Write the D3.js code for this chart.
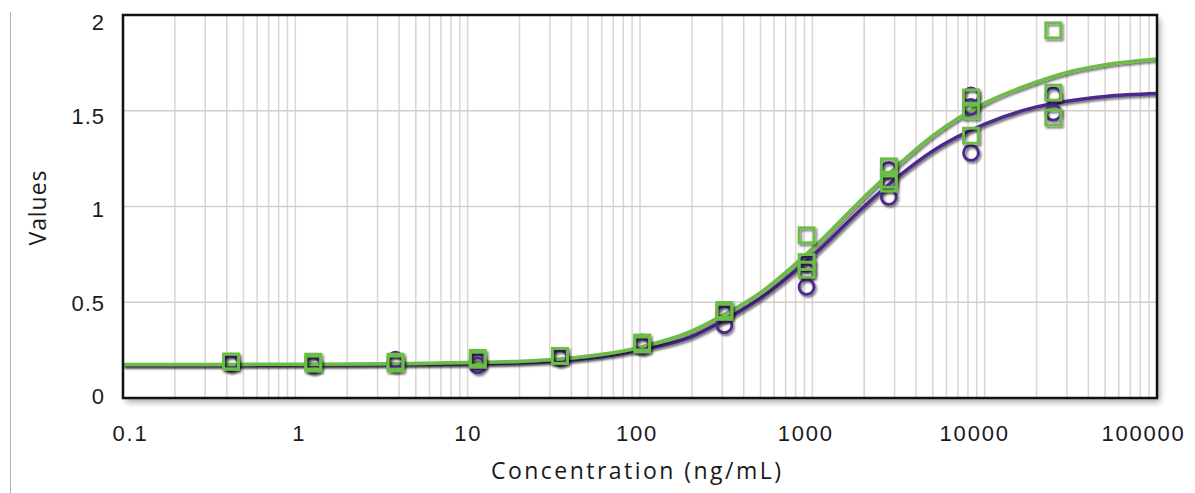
<!DOCTYPE html>
<html>
<head>
<meta charset="utf-8">
<script src="https://cdn.jsdelivr.net/npm/d3@7"></script>
<style>
  body { margin: 0; background: #fff; }
  svg { display: block; font-family: "Open Sans", Lato, sans-serif; }
</style>
</head>
<body>
<svg id="chart" width="1195" height="493"></svg>
<script>
// concentrations (3-fold dilution from 25000)
const conc = [0.4234, 1.27, 3.81, 11.43, 34.29, 102.9, 308.6, 925.9, 2778, 8333, 25000];

// purple circles, replicate readings per concentration
const purplePts = [
  [0.18, 0.19, 0.18], [0.17, 0.18, 0.18], [0.20, 0.18, 0.19], [0.17, 0.19, 0.20],
  [0.21, 0.22, 0.21], [0.27, 0.28, 0.29], [0.38, 0.44, 0.45], [0.58, 0.66, 0.70],
  [1.05, 1.13, 1.19], [1.28, 1.52, 1.58], [1.49, 1.58]
];
// green squares
const greenPts = [
  [0.19, 0.19], [0.18, 0.19], [0.18, 0.19], [0.20, 0.21],
  [0.22, 0.22], [0.29, 0.28], [0.46, 0.45], [0.85, 0.71, 0.67],
  [1.21, 1.14, 1.12], [1.57, 1.50, 1.37], [1.92, 1.595, 1.465]
];

// fitted curves
const curveX      = [0.1, 1, 10, 30, 100, 200, 300, 500, 1000, 2000, 3000, 5000, 10000, 20000, 30000, 50000, 100000];
const purpleCurve = [0.172, 0.173, 0.178, 0.19, 0.25, 0.32, 0.40, 0.52, 0.74, 1.0, 1.14, 1.29, 1.43, 1.52, 1.55, 1.575, 1.59];
const greenCurve  = [0.175, 0.176, 0.185, 0.20, 0.265, 0.35, 0.43, 0.55, 0.78, 1.05, 1.20, 1.37, 1.54, 1.65, 1.70, 1.74, 1.77];

const xTicks = [0.1, 1, 10, 100, 1000, 10000, 100000];
const xTickLabels = ["0.1", "1", "10", "100", "1000", "10000", "100000"];
const yTicks = [0, 0.5, 1, 1.5, 2];

const purple = "#4b2a8c", green = "#6cbd45";

const svg = d3.select("#chart");
const m = { left: 123, right: 1157, top: 15, bottom: 398 };

const x = d3.scaleLog().domain([0.1, 100000]).range([m.left, m.right]);
const y = d3.scaleLinear().domain([0, 2]).range([m.bottom, m.top]);
// tick labels in the original sit on a slightly tighter spread than the grid
const xLab = d3.scaleLog().domain([0.1, 100000]).range([129, 1142]);
const yLab = d3.scaleLinear().domain([0, 2]).range([396, 22]);

const defs = svg.append("defs");
defs.append("filter").attr("id", "boxShadow").attr("x", "-5%").attr("y", "-5%").attr("width", "115%").attr("height", "120%")
  .append("feDropShadow").attr("dx", 3).attr("dy", 4).attr("stdDeviation", 3)
  .attr("flood-color", "#000").attr("flood-opacity", 0.35);
defs.append("filter").attr("id", "markShadow").attr("x", "-20%").attr("y", "-20%").attr("width", "150%").attr("height", "150%")
  .append("feDropShadow").attr("dx", 1.5).attr("dy", 2).attr("stdDeviation", 1.2)
  .attr("flood-color", "#000").attr("flood-opacity", 0.55);
defs.append("clipPath").attr("id", "plotClip").append("rect")
  .attr("x", m.left).attr("y", m.top).attr("width", m.right - m.left).attr("height", m.bottom - m.top);

// thin grey rule at far left
svg.append("line").attr("x1", 10.5).attr("x2", 10.5).attr("y1", 12).attr("y2", 493)
  .attr("stroke", "#b0b0b0").attr("stroke-width", 1);

// plot background with shadow
svg.append("rect").attr("x", m.left).attr("y", m.top)
  .attr("width", m.right - m.left).attr("height", m.bottom - m.top)
  .attr("fill", "#fff").attr("filter", "url(#boxShadow)");

// grid
const minor = [];
for (let d = -1; d < 5; d++) for (let k = 1; k <= 9; k++) minor.push(k * Math.pow(10, d));
minor.push(100000);
svg.append("g").selectAll("line").data(minor).join("line")
  .attr("x1", d => x(d)).attr("x2", d => x(d))
  .attr("y1", m.top).attr("y2", m.bottom)
  .attr("stroke", "#dcd3d3").attr("stroke-width", 1.5);
svg.append("g").selectAll("line").data(yTicks.slice(1, -1)).join("line")
  .attr("x1", m.left).attr("x2", m.right)
  .attr("y1", d => y(d)).attr("y2", d => y(d))
  .attr("stroke", "#d5cccc").attr("stroke-width", 1.5);

// axes (labels only)
const yAxis = svg.append("g").attr("transform", `translate(${m.left},0)`)
  .call(d3.axisLeft(y).tickValues(yTicks).tickSize(0).tickPadding(18).tickFormat(d3.format("")));
yAxis.select(".domain").remove();
yAxis.selectAll(".tick text").attr("font-size", 22).attr("fill", "#1a1a1a")
  .attr("dy", "0.35em").attr("y", d => yLab(d) - y(d)).attr("letter-spacing", 1);

const xAxis = svg.append("g").attr("transform", `translate(0,${m.bottom})`)
  .call(d3.axisBottom(x).tickValues(xTicks).tickSize(0).tickPadding(27)
    .tickFormat((d, i) => xTickLabels[i]));
xAxis.select(".domain").remove();
xAxis.selectAll(".tick text").attr("font-size", 22).attr("fill", "#1a1a1a")
  .attr("x", d => xLab(d) - x(d) + 1).attr("letter-spacing", 1.8);

// curves
const line = d3.line().x(d => x(d[0])).y(d => y(d[1])).curve(d3.curveMonotoneX);
const plot = svg.append("g").attr("clip-path", "url(#plotClip)");
plot.append("path").datum(d3.zip(curveX, purpleCurve)).attr("d", line)
  .attr("fill", "none").attr("stroke", purple).attr("stroke-width", 3.5).attr("filter", "url(#markShadow)");
plot.append("path").datum(d3.zip(curveX, greenCurve)).attr("d", line)
  .attr("fill", "none").attr("stroke", green).attr("stroke-width", 3.5).attr("filter", "url(#markShadow)");

// markers
const flat = (pts) => pts.flatMap((reps, i) => reps.map(v => [conc[i], v]));
svg.append("g").attr("filter", "url(#markShadow)")
  .selectAll("circle").data(flat(purplePts)).join("circle")
  .attr("cx", d => x(d[0])).attr("cy", d => y(d[1])).attr("r", 7.5)
  .attr("fill", "none").attr("stroke", purple).attr("stroke-width", 2.8);
const s = 15;
svg.append("g").attr("filter", "url(#markShadow)")
  .selectAll("rect").data(flat(greenPts)).join("rect")
  .attr("x", d => x(d[0]) - s / 2).attr("y", d => y(d[1]) - s / 2)
  .attr("width", s).attr("height", s)
  .attr("fill", "none").attr("stroke", green).attr("stroke-width", 2.8);

// plot frame
svg.append("rect").attr("x", m.left).attr("y", m.top)
  .attr("width", m.right - m.left).attr("height", m.bottom - m.top)
  .attr("fill", "none").attr("stroke", "#111").attr("stroke-width", 2.5);

// axis titles
svg.append("text").attr("x", 636).attr("y", 479).attr("text-anchor", "middle")
  .attr("font-size", 23).attr("fill", "#1a1a1a")
  .attr("textLength", 290).attr("lengthAdjust", "spacing")
  .text("Concentration (ng/mL)");
svg.append("text").attr("transform", "translate(46,208) rotate(-90)").attr("text-anchor", "middle")
  .attr("font-size", 23).attr("fill", "#1a1a1a")
  .attr("textLength", 75).attr("lengthAdjust", "spacing")
  .text("Values");
</script>
</body>
</html>
